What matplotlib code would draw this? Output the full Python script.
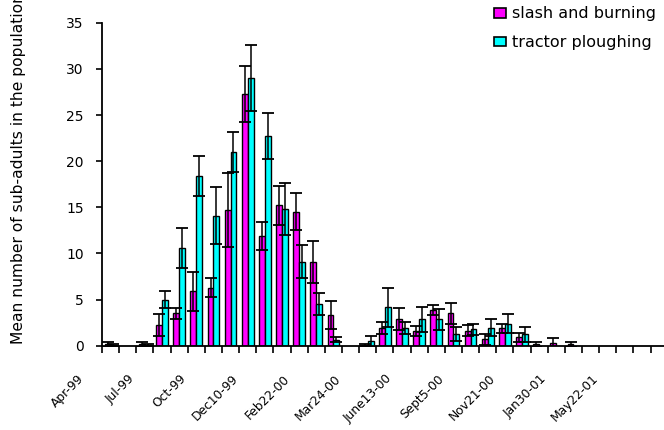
import numpy as np
import matplotlib
matplotlib.use("Agg")
import matplotlib.pyplot as plt
import matplotlib.transforms as mtransforms
from matplotlib.patches import Patch

nan = np.nan

# 33 sampling occasions, only every third one is labelled
n_cat = 33
tick_labels = ['Apr-99', 'Jul-99', 'Oct-99', 'Dec10-99', 'Feb22-00', 'Mar24-00',
               'June13-00', 'Sept5-00', 'Nov21-00', 'Jan30-01', 'May22-01']

slash = [0.15, nan, 0.15, 2.2, 3.5, 5.9, 6.3, 14.7, 27.3, 11.9, 15.2, 14.5,
         9.1, 3.3, nan, 0.1, 1.95, 2.85, 1.6, 3.9, 3.5, 1.6, 0.7, 1.9,
         0.9, 0.15, 0.3, 0.15, nan, nan, nan, nan, nan]
slash_err = [0.25, nan, 0.25, 1.2, 0.6, 2.1, 1.0, 4.0, 3.0, 1.5, 2.1, 2.0,
             2.3, 1.5, nan, 0.1, 0.65, 1.2, 0.5, 0.55, 1.1, 0.6, 0.6, 0.5,
             0.5, 0.3, 0.5, 0.3, nan, nan, nan, nan, nan]
tractor = [0.1, nan, 0.1, 5.0, 10.6, 18.4, 14.1, 21.0, 29.0, 22.7, 14.8, 9.1,
           4.5, 0.65, nan, 0.5, 4.15, 1.95, 2.85, 2.85, 1.26, 1.8, 1.95, 2.4,
           1.25, nan, nan, nan, nan, nan, nan, nan, nan]
tractor_err = [0.1, nan, 0.1, 0.9, 2.2, 2.2, 3.1, 2.2, 3.6, 2.5, 2.8, 1.8,
               1.2, 0.25, nan, 0.6, 2.1, 0.65, 1.4, 1.1, 0.8, 0.6, 0.9, 1.0,
               0.8, nan, nan, nan, nan, nan, nan, nan, nan]

fig = plt.figure(figsize=(6.64, 4.30), dpi=100)
ax = fig.add_axes([0.1536, 0.196, 0.852, 0.751])

x = np.arange(n_cat) + 0.5
w = 0.34
ax.bar(x - w / 2, slash, w, color='#FF00FF', edgecolor='black', linewidth=1)
ax.bar(x + w / 2, tractor, w, color='#00FFFF', edgecolor='black', linewidth=1)
ax.errorbar(x - w / 2, slash, yerr=slash_err, fmt='none', ecolor='black',
            elinewidth=1.1, capsize=4, capthick=1.3)
ax.errorbar(x + w / 2, tractor, yerr=tractor_err, fmt='none', ecolor='black',
            elinewidth=1.1, capsize=4, capthick=1.3)

ax.set_xlim(0, n_cat)
ax.set_ylim(0, 35)
ax.set_yticks(np.arange(0, 36, 5))
ax.tick_params(axis='y', direction='out', length=4, width=1.2, pad=9, labelsize=10)

# tick marks between categories, labels on every third category
ax.set_xticks(np.arange(0, n_cat + 1))
ax.set_xticklabels([])
ax.tick_params(axis='x', which='major', direction='out', length=5, width=1.2)
ax.set_xticks(np.arange(0, n_cat, 3) + 0.5, minor=True)
ax.set_xticklabels(tick_labels, minor=True, rotation=45, ha='right',
                   va='center', rotation_mode='anchor', fontsize=8.8)
ax.tick_params(axis='x', which='minor', length=0, pad=0)
shift = mtransforms.ScaledTranslation(-29 / 100, -31 / 100, fig.dpi_scale_trans)
for lab in ax.get_xticklabels(minor=True):
    lab.set_transform(lab.get_transform() + shift)

for s in ['top', 'right']:
    ax.spines[s].set_visible(False)
for s in ['left', 'bottom']:
    ax.spines[s].set_linewidth(1.3)

fig.text(0.028, 1 - 344 / 430, 'Mean number of sub-adults in the population',
         rotation=90, ha='center', va='bottom', fontsize=11.2)

handles = [Patch(facecolor='#FF00FF', edgecolor='black', linewidth=1.2),
           Patch(facecolor='#00FFFF', edgecolor='black', linewidth=1.2)]
fig.legend(handles, ['slash and burning', 'tractor ploughing'],
           loc='upper left', bbox_to_anchor=(488 / 664, 1.0),
           frameon=False, fontsize=11.5, handlelength=0.7, handleheight=0.55,
           handletextpad=0.4, labelspacing=0.85, borderaxespad=0.0)

fig.savefig('out.png', dpi=100)
